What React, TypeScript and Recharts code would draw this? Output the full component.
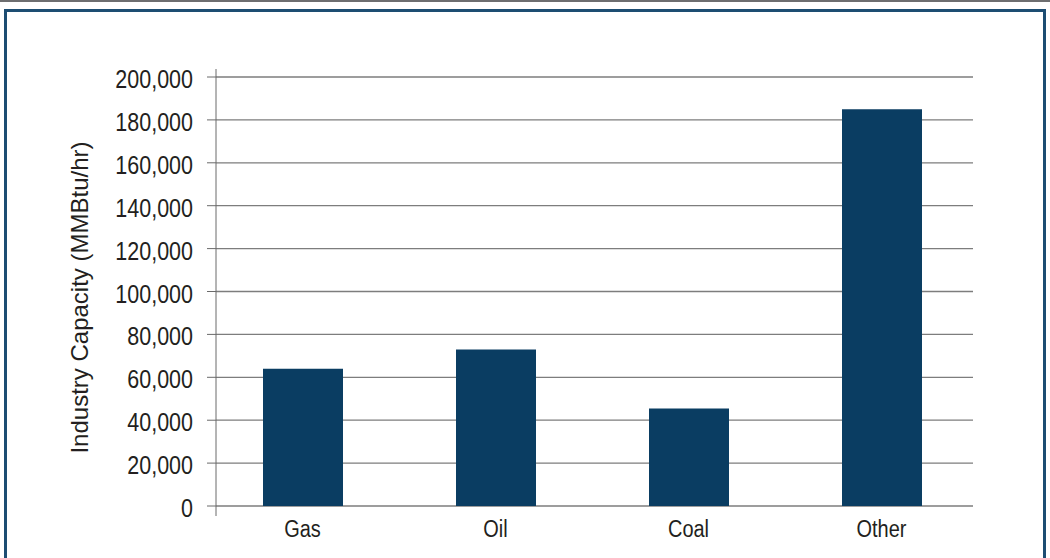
import React from "react";
import {
  BarChart,
  Bar,
  XAxis,
  YAxis,
  CartesianGrid,
} from "recharts";

const fuels = ["Gas", "Oil", "Coal", "Other"];
const capacity = [64000, 73000, 45500, 185000];
const yTicks = [0, 20000, 40000, 60000, 80000, 100000, 120000, 140000, 160000, 180000, 200000];

const data = fuels.map((fuel, i) => ({ fuel, capacity: capacity[i] }));

const font = "'Liberation Sans', Arial, sans-serif";
const textColor = "#231f20";

// Helvetica Condensed look-alike: squeeze Liberation Sans horizontally
function YTick({ x, y, payload }: any) {
  return (
    <g transform={`translate(${x},${y}) scale(0.86,1)`}>
      <text textAnchor="end" dy={11} fill={textColor} fontFamily={font} fontSize={25}>
        {Number(payload.value).toLocaleString("en-US")}
      </text>
    </g>
  );
}

function XTick({ x, y, payload }: any) {
  return (
    <g transform={`translate(${x},${y}) scale(0.85,1)`}>
      <text textAnchor="middle" dy={21} fill={textColor} fontFamily={font} fontSize={23.5}>
        {payload.value}
      </text>
    </g>
  );
}

function YLabel({ viewBox }: any) {
  const cx = 79;
  const cy = viewBox.y + viewBox.height / 2 + 5;
  return (
    <text
      x={cx}
      y={cy}
      transform={`rotate(-90, ${cx}, ${cy})`}
      textAnchor="middle"
      dominantBaseline="central"
      fill={textColor}
      fontFamily={font}
      fontSize={24}
    >
      Industry Capacity (MMBtu/hr)
    </text>
  );
}

export default function App() {
  return (
    <div
      style={{
        position: "fixed",
        left: 0,
        top: 0,
        width: 1050,
        height: 558,
        background: "#fff",
        overflow: "hidden",
      }}
    >
      <div style={{ position: "absolute", left: 0, top: 0, width: 1050, height: 2, background: "#6d6e70" }} />
      <div
        style={{
          position: "absolute",
          left: 4,
          top: 9,
          width: 1036,
          height: 600,
          border: "3px solid #1d4d72",
        }}
      />
      <div style={{ position: "absolute", left: 0, top: 0 }}>
        <BarChart
          width={1050}
          height={558}
          data={data}
          margin={{ top: 69, right: 77, bottom: 0, left: 0 }}
        >
          <CartesianGrid
            vertical={false}
            stroke="#7d7d7d"
            strokeWidth={1.3}
            horizontalValues={yTicks}
          />
          <XAxis
            dataKey="fuel"
            axisLine={false}
            tickLine={false}
            tickSize={0}
            tickMargin={0}
            padding={{ left: -10, right: -5 }}
            tick={<XTick />}
            height={42}
          />
          <YAxis
            width={216}
            domain={[-4660, 203730]}
            ticks={yTicks}
            interval={0}
            allowDataOverflow
            stroke="#6a6a6a"
            tickSize={9}
            tickMargin={14}
            tick={<YTick />}
            label={<YLabel />}
          />
          <Bar
            dataKey="capacity"
            fill="#0a3d62"
            barSize={80}
            isAnimationActive={false}
          />
        </BarChart>
      </div>
    </div>
  );
}
